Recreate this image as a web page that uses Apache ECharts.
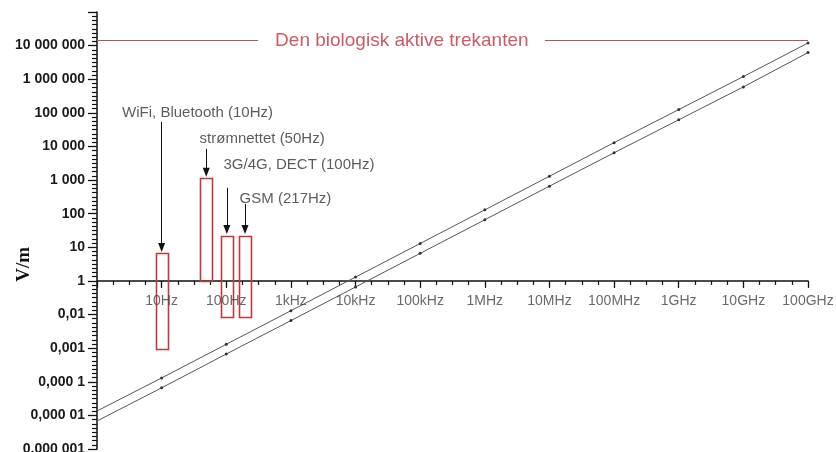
<!DOCTYPE html>
<html><head><meta charset="utf-8">
<script src="https://cdn.jsdelivr.net/npm/echarts@6/dist/echarts.min.js"></script>
<style>html,body{margin:0;padding:0;background:#fff}#c{width:836px;height:452px}</style>
</head><body><div id="c"></div>
<script>
// ---- data (frequency in Hz, field strength in V/m, positions as drawn on the uniform decade scale) ----
const xTickLabels = ['', '10Hz', '100Hz', '1kHz', '10kHz', '100kHz', '1MHz', '10MHz', '100MHz', '1GHz', '10GHz', '100GHz'];
const yTickLabels = ['0,000 001', '0,000 01', '0,000 1', '0,001', '0,01', '1', '10', '100', '1 000', '10 000', '100 000', '1 000 000', '10 000 000', ''];
const freqHz = [1, 10, 100, 1e3, 1e4, 1e5, 1e6, 1e7, 1e8, 1e9, 1e10, 1e11];
const upperLine = [1.35e-4, 1.3e-3, 1.3e-2, 0.13, 1.3, 13, 130, 1300, 13000, 125000, 1.2e6, 1.2e7];
const lowerLine = [6.8e-5, 6.6e-4, 6.7e-3, 0.066, 0.66, 6.6, 66, 660, 6500, 62000, 5.9e5, 6.2e6];

const bandNames = ['WiFi, Bluetooth (10Hz)', 'strømnettet (50Hz)', '3G/4G, DECT (100Hz)', 'GSM (217Hz)'];
const bandFreq = [10, 49, 102, 195];
const bandLow = [0.01, 1, 0.087, 0.087];
const bandHigh = [7, 1150, 22, 22];
const labelFreq = [2.4, 38, 89, 158];
const labelLevel = [1.0e5, 16600, 2800, 275];
const arrowFrom = [54000, 8500, 590, 195];
const arrowTo = [9.8, 1700, 34, 34];

const triangleTitle = 'Den biologisk aktive trekanten';
const triangleLevel = 1.4e7;
const triangleTitleFreq = 52000;
const triangleGap = [310, 8.5e6];
const axisName = 'V/m';
const axisCrossLevel = 1; // the frequency axis crosses the V/m axis at 1

// ---- chart ----
const L = Math.log10;
const FONT = '"Liberation Sans", Arial, sans-serif';
const RED = '#c0393f';

const chart = echarts.init(document.getElementById('c'), null, {renderer: 'canvas'});

const upperData = freqHz.map((f, i) => i === 0 ? {value: [L(f), L(upperLine[i])], symbol: 'none'} : [L(f), L(upperLine[i])]);
const lowerData = freqHz.map((f, i) => i === 0 ? {value: [L(f), L(lowerLine[i])], symbol: 'none'} : [L(f), L(lowerLine[i])]);

const arrowLines = bandFreq.map((f, i) => [
  {coord: [L(f), L(arrowFrom[i])], symbol: 'none'},
  {coord: [L(f), L(arrowTo[i])], symbol: 'triangle', symbolSize: [7, 9], symbolRotate: 180}
]);
const redLines = [
  [{coord: [L(freqHz[0]), L(triangleLevel)]}, {coord: [L(triangleGap[0]), L(triangleLevel)]}],
  [{coord: [L(triangleGap[1]), L(triangleLevel)]}, {coord: [L(freqHz[freqHz.length - 1]), L(triangleLevel)]}]
];

const option = {
  animation: false,
  grid: {left: 97, right: 28, top: 12, bottom: 3, containLabel: false, outerBoundsMode: 'none'},
  xAxis: {
    type: 'value', min: 0, max: 11, interval: 1,
    axisLine: {show: true, onZero: true, lineStyle: {color: '#111', width: 1.5}},
    axisTick: {show: true, length: 7, lineStyle: {color: '#111', width: 1.3}},
    minorTick: {show: true, splitNumber: 4, length: 4, lineStyle: {color: '#111', width: 1.2}},
    splitLine: {show: false},
    axisLabel: {show: false}
  },
  yAxis: {
    type: 'value', min: -5, max: 8, interval: 1,
    axisLine: {show: true, onZero: true, lineStyle: {color: '#111', width: 1.5}},
    axisTick: {show: true, length: 9, lineStyle: {color: '#111', width: 1.3}},
    minorTick: {show: true, splitNumber: 8, length: 5, lineStyle: {color: '#111', width: 1.2}},
    splitLine: {show: false},
    axisLabel: {
      margin: 12, fontSize: 14, fontWeight: 'bold', color: '#1a1a1a', fontFamily: FONT,
      formatter: v => yTickLabels[Math.round(v) + 5] || ''
    }
  },
  graphic: [{
    type: 'text', left: 15, top: 247,
    style: {text: axisName, font: 'bold 19px "Liberation Serif", "Times New Roman", serif', fill: '#111'},
    rotation: Math.PI / 2, originX: 0, originY: 0
  }],
  series: [
    {
      type: 'line', name: 'upper', data: upperData, symbol: 'circle', symbolSize: 3,
      itemStyle: {color: '#333'}, lineStyle: {color: '#555', width: 1}, z: 3,
      markLine: {
        silent: true, animation: false, label: {show: false},
        symbol: ['none', 'none'],
        lineStyle: {color: '#111', width: 1, type: 'solid'},
        data: arrowLines
      }
    },
    {
      type: 'line', name: 'lower', data: lowerData, symbol: 'circle', symbolSize: 3,
      itemStyle: {color: '#333'}, lineStyle: {color: '#555', width: 1}, z: 3,
      markLine: {
        silent: true, animation: false, label: {show: false},
        symbol: ['none', 'none'],
        lineStyle: {color: '#b0555a', width: 1.2, type: 'solid'},
        data: redLines
      }
    },
    {
      type: 'custom', name: 'bands',
      data: bandFreq.map((f, i) => [L(f), L(bandLow[i]), L(bandHigh[i])]),
      encode: {x: 0, y: [1, 2]},
      z: 4,
      renderItem: (params, api) => {
        const x = api.value(0), lo = api.value(1), hi = api.value(2);
        const a = api.coord([x, hi]), b = api.coord([x, lo]);
        return {
          type: 'rect',
          shape: {x: Math.round(a[0] - 6) + 0.5, y: Math.round(a[1]) + 0.5, width: 12, height: Math.round(b[1] - a[1])},
          style: {fill: 'none', stroke: RED, lineWidth: 1.6}
        };
      }
    },
    {
      type: 'scatter', name: 'xTickLabels', symbolSize: 1, itemStyle: {color: 'transparent'},
      data: freqHz.map((f, i) => [L(f), L(axisCrossLevel), xTickLabels[i]]),
      label: {show: true, position: 'bottom', distance: 13, formatter: p => p.value[2],
        fontSize: 14, color: '#444', fontFamily: FONT},
      silent: true, z: 5
    },
    {
      type: 'scatter', name: 'annotations', symbolSize: 1, itemStyle: {color: 'transparent'},
      data: bandNames.map((t, i) => [L(labelFreq[i]), L(labelLevel[i]), t]),
      label: {show: true, position: 'right', distance: 0, formatter: p => p.value[2],
        fontSize: 15, color: '#333', fontFamily: FONT},
      silent: true, z: 5
    },
    {
      type: 'scatter', name: 'triangleTitle', symbolSize: 1, itemStyle: {color: 'transparent'},
      data: [[L(triangleTitleFreq), L(triangleLevel), triangleTitle]],
      label: {show: true, position: 'inside', formatter: p => p.value[2],
        fontSize: 19, color: '#c0313c', fontFamily: FONT},
      silent: true, z: 5
    }
  ]
};
chart.setOption(option);
</script></body></html>
